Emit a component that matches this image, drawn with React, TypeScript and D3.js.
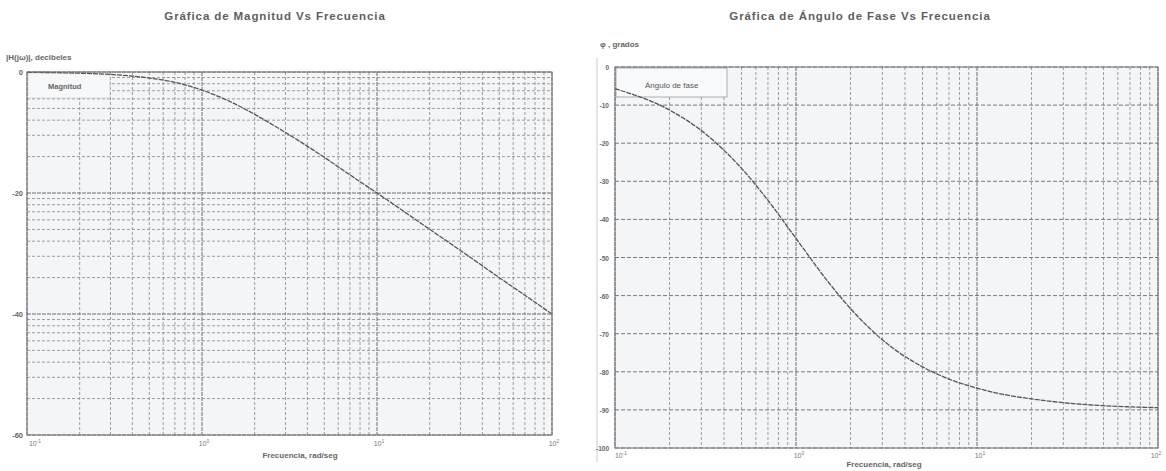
import React from 'react';
import * as d3 from 'd3';

// frecuencias leidas (rad/seg)
const freqs = [0.1, 0.2, 0.3, 0.5, 0.7, 1, 1.5, 2, 3, 5, 7, 10, 15, 20, 30, 50, 70, 100];
// magnitud en decibeles
const magnitud = [-0.05, -0.2, -0.4, -1.0, -1.7, -3.0, -5.1, -7.0, -10.0, -14.1, -17.0, -20.0, -23.5, -26.0, -29.5, -34.0, -36.9, -40.0];
// angulo de fase en grados
const fase = [-5.7, -11.3, -16.7, -26.6, -35.0, -45.0, -56.3, -63.4, -71.6, -78.7, -81.9, -84.3, -86.2, -87.1, -88.1, -88.9, -89.2, -89.4];

const decadas = [0.1, 1, 10, 100];
const exponentes = ['-1', '0', '1', '2'];
const magTicks = [0, -20, -40, -60];
const faseTicks = [0, -10, -20, -30, -40, -50, -60, -70, -80, -90, -100];

const FONT = '"Liberation Sans", Arial, sans-serif';
const GRID = '#85888b';
const GRID_MAJ = '#6a6d70';

function logGrid() {
  const v: { f: number; major: boolean }[] = [];
  for (let d = 0; d < 3; d++) {
    for (let k = 1; k <= 9; k++) v.push({ f: decadas[d] * k, major: k === 1 });
  }
  v.push({ f: 100, major: true });
  return v;
}

function Potencia(props: { x: number; y: number; e: string }) {
  return (
    <text x={props.x} y={props.y} textAnchor="middle" fontSize={7} fill="#777" fontFamily={FONT}>
      10<tspan fontSize={5} dy={-3}>{props.e}</tspan>
    </text>
  );
}

function Magnitud() {
  const left = 27, right = 552, top = 72, bottom = 435;
  const x = d3.scaleLog().domain([0.1, 100]).range([left, right]);
  const y = d3.scaleLinear().domain([0, -60]).range([top, bottom]);
  const line = d3.line<number>().x((d, i) => x(freqs[i])).y(d => y(d)).curve(d3.curveMonotoneX);
  // lineas horizontales: cada banda de 20 dB como papel logaritmico
  const hLines: { v: number; major: boolean }[] = [];
  for (let b = 0; b < 3; b++) {
    const base = -20 * (b + 1);
    for (let k = 2; k <= 9; k++) hLines.push({ v: base + 20 * Math.log10(k), major: false });
  }
  magTicks.forEach(t => hLines.push({ v: t, major: true }));
  return (
    <g>
      <text x={275} y={20} textAnchor="middle" fontSize={11.5} letterSpacing={0.9} fontWeight="bold" fill="#5e5e5e" fontFamily={FONT}>
        Gráfica de Magnitud Vs Frecuencia
      </text>
      <text x={6} y={60} fontSize={8} fontWeight="bold" fill="#666" fontFamily={FONT}>|H(jω)|, decibeles</text>
      <rect x={left} y={top} width={right - left} height={bottom - top} fill="#f3f5f7" />
      {logGrid().map((g, i) => (
        <line key={'v' + i} x1={x(g.f)} x2={x(g.f)} y1={top} y2={bottom}
          stroke={g.major ? GRID_MAJ : GRID} strokeWidth={g.major ? 1 : 0.8} strokeDasharray={g.major ? '4,1' : '3,2'} />
      ))}
      {hLines.map((h, i) => (
        <line key={'h' + i} x1={left} x2={right} y1={y(h.v)} y2={y(h.v)}
          stroke={h.major ? GRID_MAJ : GRID} strokeWidth={h.major ? 1 : 0.8} strokeDasharray={h.major ? '4,1' : '3,2'} />
      ))}
      <rect x={left + 1} y={top + 1} width={82} height={25} fill="#f7f8f9" stroke="#c8cacc" strokeWidth={0.6} />
      <text x={48} y={89} fontSize={7.5} fontWeight="bold" fill="#666" fontFamily={FONT}>Magnitud</text>
      <path d={line(magnitud) || ''} fill="none" stroke="#555" strokeWidth={1.3} strokeDasharray="5,1" />
      <rect x={left} y={top} width={right - left} height={bottom - top} fill="none" stroke="#777" strokeWidth={1} />
      {magTicks.map(t => (
        <text key={t} x={left - 4} y={y(t) + 3} textAnchor="end" fontSize={7.5} fontWeight="bold" fill="#666" fontFamily={FONT}>{t}</text>
      ))}
      {decadas.map((d, i) => (
        <Potencia key={d} x={x(d) + (i === 0 ? 8 : 2)} y={bottom + 11} e={exponentes[i]} />
      ))}
      <text x={300} y={458} textAnchor="middle" fontSize={8} fontWeight="bold" fill="#666" fontFamily={FONT}>Frecuencia, rad/seg</text>
    </g>
  );
}

function Fase() {
  const left = 615, right = 1158, top = 67, bottom = 448;
  const x = d3.scaleLog().domain([0.1, 100]).range([left, right]);
  const y = d3.scaleLinear().domain([0, -100]).range([top, bottom]);
  const line = d3.line<number>().x((d, i) => x(freqs[i])).y(d => y(d)).curve(d3.curveMonotoneX);
  return (
    <g>
      <text x={860} y={20} textAnchor="middle" fontSize={11.5} letterSpacing={0.9} fontWeight="bold" fill="#5e5e5e" fontFamily={FONT}>
        Gráfica de Ángulo de Fase Vs Frecuencia
      </text>
      <text x={600} y={47} fontSize={8} fontWeight="bold" fill="#666" fontFamily={FONT}>φ , grados</text>
      <line x1={597} x2={597} y1={58} y2={462} stroke="#c9cbcd" strokeWidth={1} />
      <rect x={left} y={top} width={right - left} height={bottom - top} fill="#f3f5f7" />
      {logGrid().map((g, i) => (
        <line key={'v' + i} x1={x(g.f)} x2={x(g.f)} y1={top} y2={bottom}
          stroke={g.major ? GRID_MAJ : GRID} strokeWidth={g.major ? 1 : 0.8} strokeDasharray={g.major ? '4,1' : '3,2'} />
      ))}
      {faseTicks.map(t => (
        <line key={'h' + t} x1={left} x2={right} y1={y(t)} y2={y(t)}
          stroke={GRID_MAJ} strokeWidth={0.9} strokeDasharray="4,2" />
      ))}
      <rect x={left + 1} y={top + 1} width={111} height={29} fill="#f8f9fa" stroke="#9a9c9e" strokeWidth={0.8} />
      <text x={645} y={88} fontSize={8} fill="#555" fontFamily={FONT}>Ángulo de fase</text>
      <path d={line(fase) || ''} fill="none" stroke="#555" strokeWidth={1.3} strokeDasharray="5,1" />
      <rect x={left} y={top} width={right - left} height={bottom - top} fill="none" stroke="#777" strokeWidth={1} />
      {faseTicks.map(t => (
        <text key={t} x={left - 6} y={y(t) + 3} textAnchor="end" fontSize={6.5} fontWeight="bold" fill="#666" fontFamily={FONT}>{t}</text>
      ))}
      {decadas.map((d, i) => (
        <Potencia key={d} x={x(d) + (i === 0 ? 6 : i === 3 ? -2 : 3)} y={bottom + 10} e={exponentes[i]} />
      ))}
      <text x={884} y={467} textAnchor="middle" fontSize={8} fontWeight="bold" fill="#666" fontFamily={FONT}>Frecuencia, rad/seg</text>
    </g>
  );
}

export default function App() {
  return (
    <svg width={1166} height={471} style={{ position: 'absolute', left: 0, top: 0, background: '#fff' }}>
      <Magnitud />
      <Fase />
    </svg>
  );
}
